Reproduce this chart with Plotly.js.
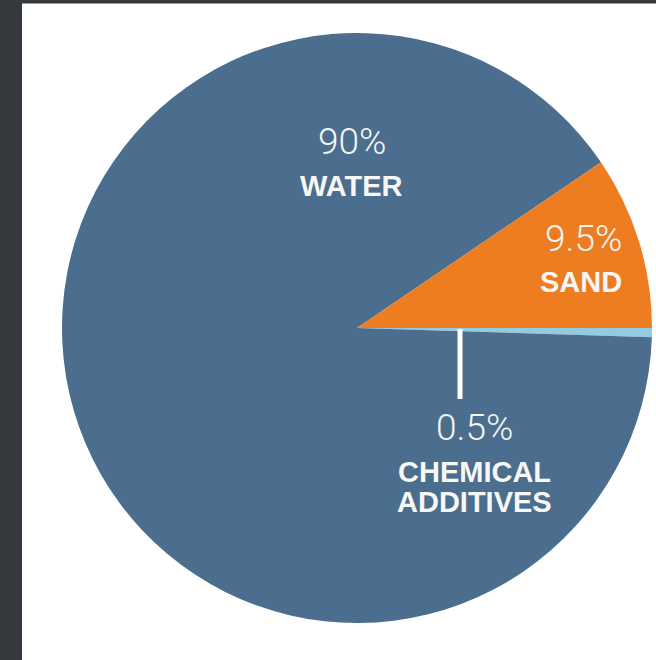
<!DOCTYPE html>
<html>
<head>
<meta charset="utf-8">
<script src="https://cdn.plot.ly/plotly-3.0.1.min.js"></script>
<style>html,body{margin:0;padding:0;background:#fff;}#chart{width:656px;height:660px;}</style>
</head>
<body>
<div id="chart"></div>
<script>
// Data (clockwise order starting at 3 o'clock)
const categories = ["CHEMICAL ADDITIVES", "WATER", "SAND"];
const shares = [0.5, 90, 9.5];
const shareLabels = ["0.5%", "90%", "9.5%"];
const sliceColors = ["#93cbe3", "#4b6d8e", "#ee7d22"];

const W = 656, H = 660;
const px = x => x / W;
const py = y => 1 - y / H;

// pie geometry in pixels
const cx = 357, cy = 328, r = 295;

const trace = {
  type: "pie",
  labels: categories,
  values: shares,
  sort: false,
  direction: "clockwise",
  rotation: 90,
  textinfo: "none",
  hoverinfo: "label+percent",
  marker: { colors: sliceColors, line: { width: 0 } },
  domain: { x: [px(cx - r), px(cx + r)], y: [py(cy + r), py(cy - r)] },
  showlegend: false
};

const lightFont = { family: "Roboto, 'Open Sans', Arial, sans-serif", size: 37, color: "#f4f4f2", weight: 300 };
const boldFont = { family: "'Liberation Sans', Arial, sans-serif", size: 29, color: "#f7f7f5", weight: 700 };

function ann(text, x, y, font) {
  return { text: text, x: px(x), y: py(y), xref: "paper", yref: "paper",
           xanchor: "center", yanchor: "middle", showarrow: false, font: font };
}

const annotations = [
  ann(shareLabels[1], 352, 141, lightFont),
  ann(categories[1], 351, 186, boldFont),
  ann(shareLabels[2], 583, 238, lightFont),
  ann(categories[2], 581, 282, boldFont),
  ann(shareLabels[0], 474, 427, lightFont),
  ann("CHEMICAL", 474, 472, boldFont),
  ann("ADDITIVES", 474, 502, boldFont)
];

const shapes = [
  // dark frame strips
  { type: "rect", xref: "paper", yref: "paper", x0: 0, x1: px(22), y0: 0, y1: 1,
    fillcolor: "#35383d", line: { width: 0 } },
  { type: "rect", xref: "paper", yref: "paper", x0: 0, x1: 1, y0: py(3.5), y1: 1,
    fillcolor: "#35383d", line: { width: 0 } },
  // leader line for chemical additives
  { type: "line", xref: "paper", yref: "paper", x0: px(460), x1: px(460), y0: py(329), y1: py(399),
    line: { color: "#ffffff", width: 5 } }
];

const layout = {
  width: W, height: H,
  margin: { l: 0, r: 0, t: 0, b: 0 },
  paper_bgcolor: "#ffffff",
  annotations: annotations,
  shapes: shapes
};

Plotly.newPlot("chart", [trace], layout, { displayModeBar: false, staticPlot: true });
</script>
</body>
</html>
